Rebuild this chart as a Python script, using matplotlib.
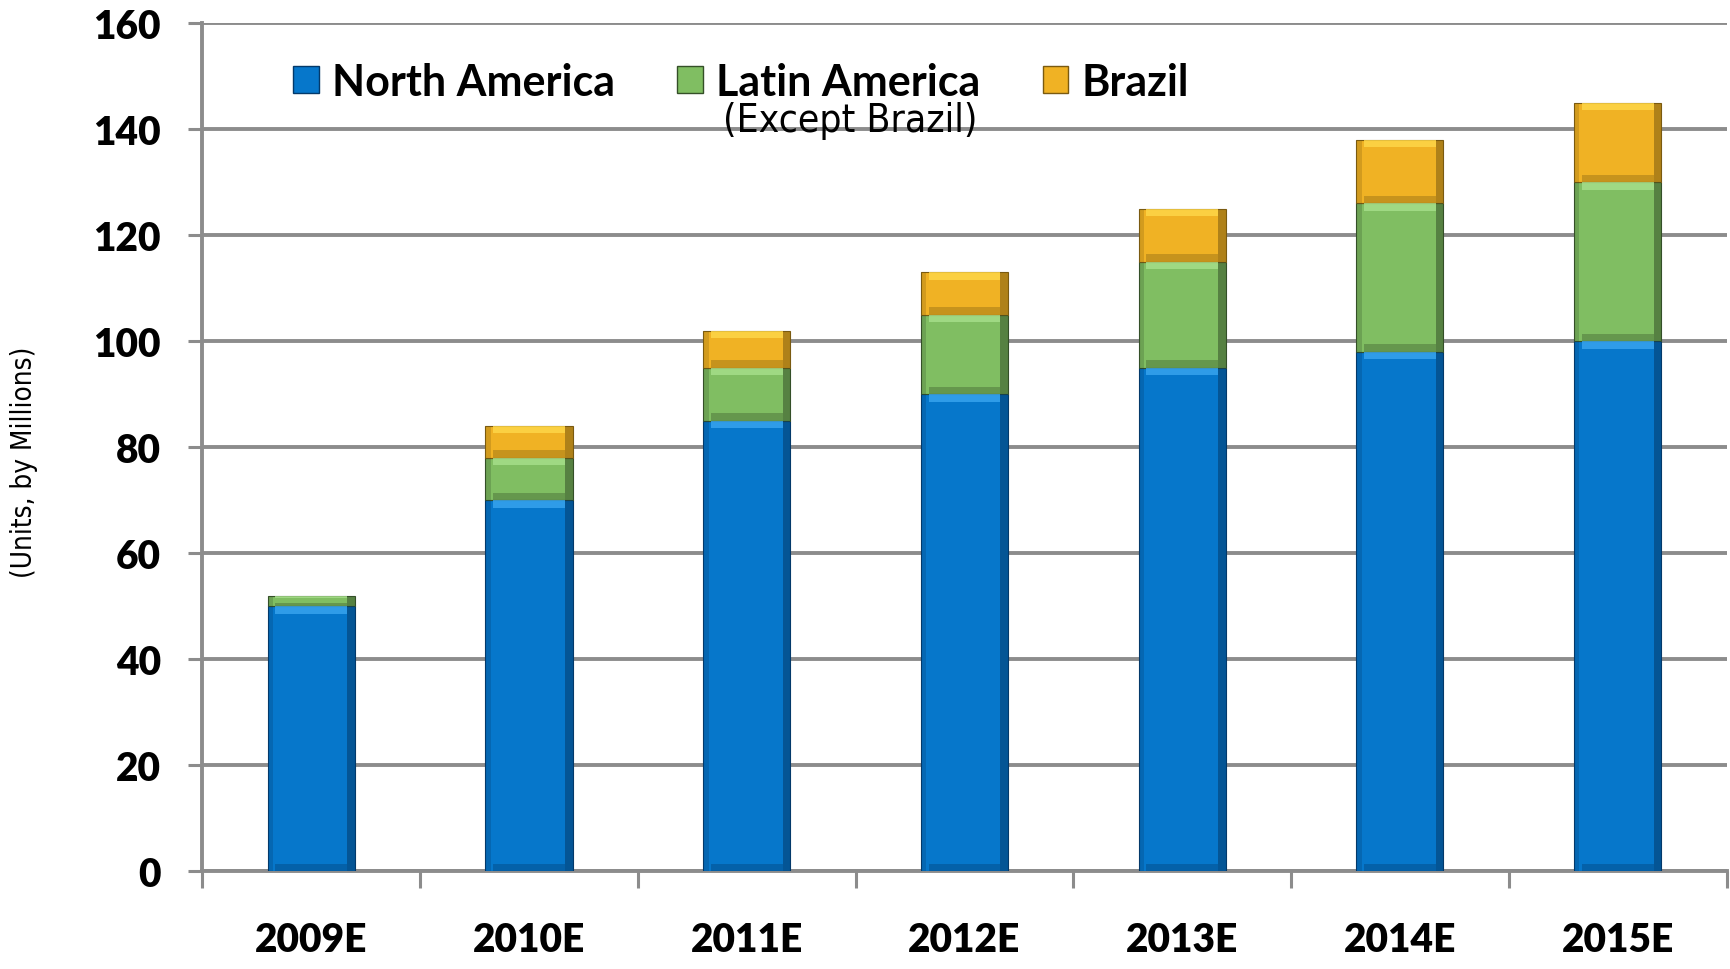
import matplotlib
matplotlib.use("Agg")
import matplotlib.pyplot as plt
from matplotlib.patches import Patch
import numpy as np

years = ["2009E", "2010E", "2011E", "2012E", "2013E", "2014E", "2015E"]
north_america = [50, 70, 85, 90, 95, 98, 100]
latin_america = [2, 8, 10, 15, 20, 28, 30]
brazil = [0, 6, 7, 8, 10, 12, 15]

BLUE, GREEN, GOLD = "#0677CB", "#80BE62", "#F0B224"
BLUE_D, GREEN_D, GOLD_D = "#03396A", "#344F28", "#7A5A10"
BLUE_L, GREEN_L, GOLD_L = "#3AA6F0", "#A8E08C", "#FFD84A"
GRID = "#8C8C8C"

fig = plt.figure(figsize=(17.3, 9.7), dpi=100)
ax = fig.add_axes([0.117, 0.101, 0.881, 0.874])

x = np.arange(len(years))
W = 0.4


def bevel_bar(bottom, height, face, dark, light):
    bottom = np.asarray(bottom, float)
    height = np.asarray(height, float)
    keep = height > 0
    xs, b, h = x[keep], bottom[keep], height[keep]
    ax.bar(xs, h, W, bottom=b, color=face, edgecolor=dark, lw=0.8, zorder=3)
    s = 0.035
    t = np.minimum(1.4, h * 0.25)
    # side shading
    ax.bar(xs + W / 2 - s, h, s, bottom=b, align="edge", color=dark, alpha=0.55, lw=0, zorder=4)
    ax.bar(xs - W / 2, h, s * 0.7, bottom=b, align="edge", color=dark, alpha=0.25, lw=0, zorder=4)
    # top highlight, bottom shadow
    ax.bar(xs, t, W - 2 * s, bottom=b + h - t, color=light, alpha=0.8, lw=0, zorder=4)
    ax.bar(xs, t, W - 2 * s, bottom=b, color=dark, alpha=0.35, lw=0, zorder=4)


na = np.array(north_america)
la = np.array(latin_america)
br = np.array(brazil)
bevel_bar(np.zeros(len(x)), na, BLUE, BLUE_D, BLUE_L)
bevel_bar(na, la, GREEN, GREEN_D, GREEN_L)
bevel_bar(na + la, br, GOLD, GOLD_D, GOLD_L)

ax.set_xlim(-0.5, len(years) - 0.5)
ax.set_ylim(0, 160)
ax.set_yticks(range(0, 161, 20))
ax.yaxis.grid(True, color=GRID, lw=2.8, zorder=0)
ax.set_axisbelow(True)

for side in ["top", "right"]:
    ax.spines[side].set_visible(False)
for side in ["left", "bottom"]:
    ax.spines[side].set_color(GRID)
    ax.spines[side].set_linewidth(2.8)

ax.tick_params(axis="y", length=10, width=2.2, color=GRID, pad=20)
ax.set_xticks(np.arange(-0.5, len(years), 1.0))
ax.set_xticklabels([])
ax.set_xticks(x, minor=True)
ax.set_xticklabels(years, minor=True)
ax.tick_params(axis="x", which="major", length=12, width=2.2, color=GRID)
ax.tick_params(axis="x", which="minor", length=0, pad=36)

for lab in ax.get_yticklabels() + ax.get_xticklabels(minor=True):
    lab.set_fontfamily("Lato")
    lab.set_fontweight("heavy")
    lab.set_fontsize(28)

handles = [Patch(facecolor=BLUE, edgecolor=BLUE_D),
           Patch(facecolor=GREEN, edgecolor=GREEN_D),
           Patch(facecolor=GOLD, edgecolor=GOLD_D)]
leg = ax.legend(handles, ["North America", "Latin America", "Brazil"],
                loc="upper left", bbox_to_anchor=(0.034, 1.0), ncol=3,
                frameon=False, handlelength=0.6, handleheight=0.6,
                handletextpad=0.3, columnspacing=1.45,
                prop={"family": "Lato", "weight": "bold", "size": 31})

ax.text(0.425, 0.886, "(Except Brazil)", transform=ax.transAxes,
        ha="center", va="center", fontsize=28, fontstretch="condensed",
        family=["DejaVu Sans"])

fig.text(0.014, 0.523, "(Units, by Millions)", rotation=90, ha="center",
         va="center", fontsize=20, fontstretch="condensed", family=["DejaVu Sans"])

fig.savefig("out.png", dpi=100)
